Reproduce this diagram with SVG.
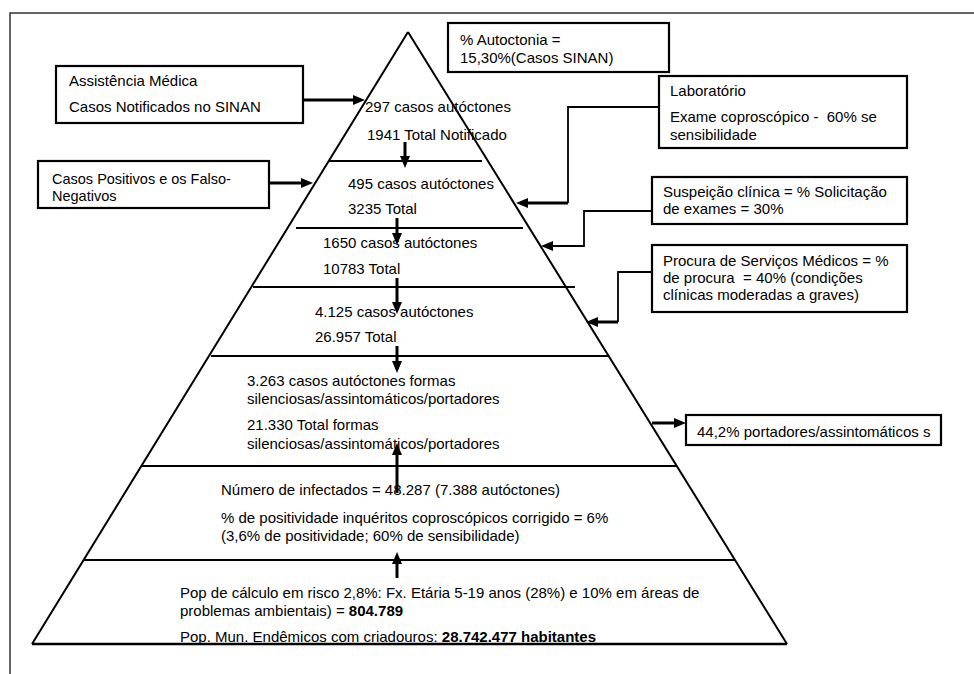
<svg xmlns="http://www.w3.org/2000/svg" width="974" height="674" viewBox="0 0 974 674">
<style>
text{font-family:"Liberation Sans",Arial,sans-serif;font-size:15px;fill:#000;white-space:pre}
.b{font-weight:bold}
.s{font-size:14.5px}
.box{fill:#fff;stroke:#000;stroke-width:2.2}
.pyr{fill:none;stroke:#000;stroke-width:2}
.lvl{stroke:#000;stroke-width:1.8}
.thin{fill:none;stroke:#000;stroke-width:1.8}
.thick{fill:none;stroke:#000;stroke-width:3}
.frame{fill:none;stroke:#333;stroke-width:1.5}
</style>
<defs>
<marker id="ah" viewBox="0 0 12 10" refX="6" refY="5" markerWidth="12" markerHeight="10" markerUnits="userSpaceOnUse" orient="auto">
<path d="M0,0 L12,5 L0,10 Z" fill="#000"/>
</marker>
</defs>
<rect width="974" height="674" fill="#fff"/>
<path class="frame" d="M10,674 V13 H974"/>

<g id="pyramid">
<path class="pyr" d="M408,32 L32,644 M408,32 L787,644"/>
<path d="M32,644 H787" stroke="#000" stroke-width="2.6"/>
<path class="lvl" d="M329,161 H482 M296,228 H523 M253,287 H575 M211,356 H608 M142,466 H677 M84,560 H735"/>
</g>

<g id="level1">
<text x="365" y="112">297 casos autóctones</text>
<text x="367" y="140">1941 Total Notificado</text>
</g>
<g id="level2">
<text x="348" y="189">495 casos autóctones</text>
<text x="348" y="214">3235 Total</text>
</g>
<g id="level3">
<text x="323" y="248">1650 casos autóctones</text>
<text x="323" y="274">10783 Total</text>
</g>
<g id="level4">
<text x="315" y="317">4.125 casos autóctones</text>
<text x="315" y="342">26.957 Total</text>
</g>
<g id="level5">
<text x="247" y="386">3.263 casos autóctones formas</text>
<text x="247" y="404">silenciosas/assintomáticos/portadores</text>
<text x="247" y="430">21.330 Total formas</text>
<text x="247" y="449">silenciosas/assintomáticos/portadores</text>
</g>
<g id="level6">
<text x="221" y="495">Número de infectados = 48.287 (7.388 autóctones)</text>
<text x="221" y="523">% de positividade inquéritos coproscópicos corrigido = 6%</text>
<text x="221" y="541">(3,6% de positividade; 60% de sensibilidade)</text>
</g>
<g id="level7">
<text x="180" y="598">Pop de cálculo em risco 2,8%: Fx. Etária 5-19 anos (28%) e 10% em áreas de</text>
<text x="180" y="616">problemas ambientais) = <tspan class="b">804.789</tspan></text>
<text x="180" y="642">Pop. Mun. Endêmicos com criadouros: <tspan class="b">28.742.477 habitantes</tspan></text>
</g>

<g id="box-assistencia">
<rect class="box" x="56" y="66" width="247" height="57"/>
<text x="69" y="86">Assistência Médica</text>
<text x="69" y="112">Casos Notificados no SINAN</text>
</g>
<g id="box-positivos">
<rect class="box" x="38" y="161" width="231" height="47"/>
<text class="s" x="52" y="184">Casos Positivos e os Falso-</text>
<text class="s" x="52" y="201">Negativos</text>
</g>
<g id="box-autoctonia">
<rect class="box" x="448" y="23" width="221" height="49"/>
<text x="460" y="45">% Autoctonia =</text>
<text x="460" y="63">15,30%(Casos SINAN)</text>
</g>
<g id="box-laboratorio">
<rect class="box" x="659" y="76" width="248" height="72"/>
<text x="670" y="96">Laboratório</text>
<text x="670" y="122">Exame coproscópico -  60% se</text>
<text x="670" y="140">sensibilidade</text>
</g>
<g id="box-suspeicao">
<rect class="box" x="652" y="177" width="255" height="47"/>
<text x="663" y="197">Suspeição clínica = % Solicitação</text>
<text x="663" y="214">de exames = 30%</text>
</g>
<g id="box-procura">
<rect class="box" x="652" y="245" width="255" height="67"/>
<text x="663" y="266">Procura de Serviços Médicos = %</text>
<text x="663" y="283">de procura  = 40% (condições</text>
<text x="663" y="300">clínicas moderadas a graves)</text>
</g>
<g id="box-portadores">
<rect class="box" x="686" y="415" width="255" height="30"/>
<text x="697" y="437">44,2% portadores/assintomáticos s</text>
</g>

<g id="connectors">
<path class="thick" d="M303,100 H359" marker-end="url(#ah)"/>
<path class="thick" d="M269,183 H307" marker-end="url(#ah)"/>
<path class="thin" d="M659,107 H568 V203"/>
<path class="thick" d="M568,203 H522" marker-end="url(#ah)"/>
<path class="thin" d="M652,211 H584 V246 H547" marker-end="url(#ah)"/>
<path class="thin" d="M652,272 H618 V322"/>
<path class="thick" d="M618,322 H592" marker-end="url(#ah)"/>
<path class="thick" d="M652,423 H680" marker-end="url(#ah)"/>
<path class="thick" d="M405,142 V162" marker-end="url(#ah)"/>
<path class="thick" d="M397,218 V239" marker-end="url(#ah)"/>
<path class="thick" d="M397,278 V308" marker-end="url(#ah)"/>
<path class="thick" d="M397,346 V367" marker-end="url(#ah)"/>
<path class="thick" d="M397,493 V449" marker-end="url(#ah)"/>
<path class="thick" d="M397,578 V558" marker-end="url(#ah)"/>
</g>
</svg>
